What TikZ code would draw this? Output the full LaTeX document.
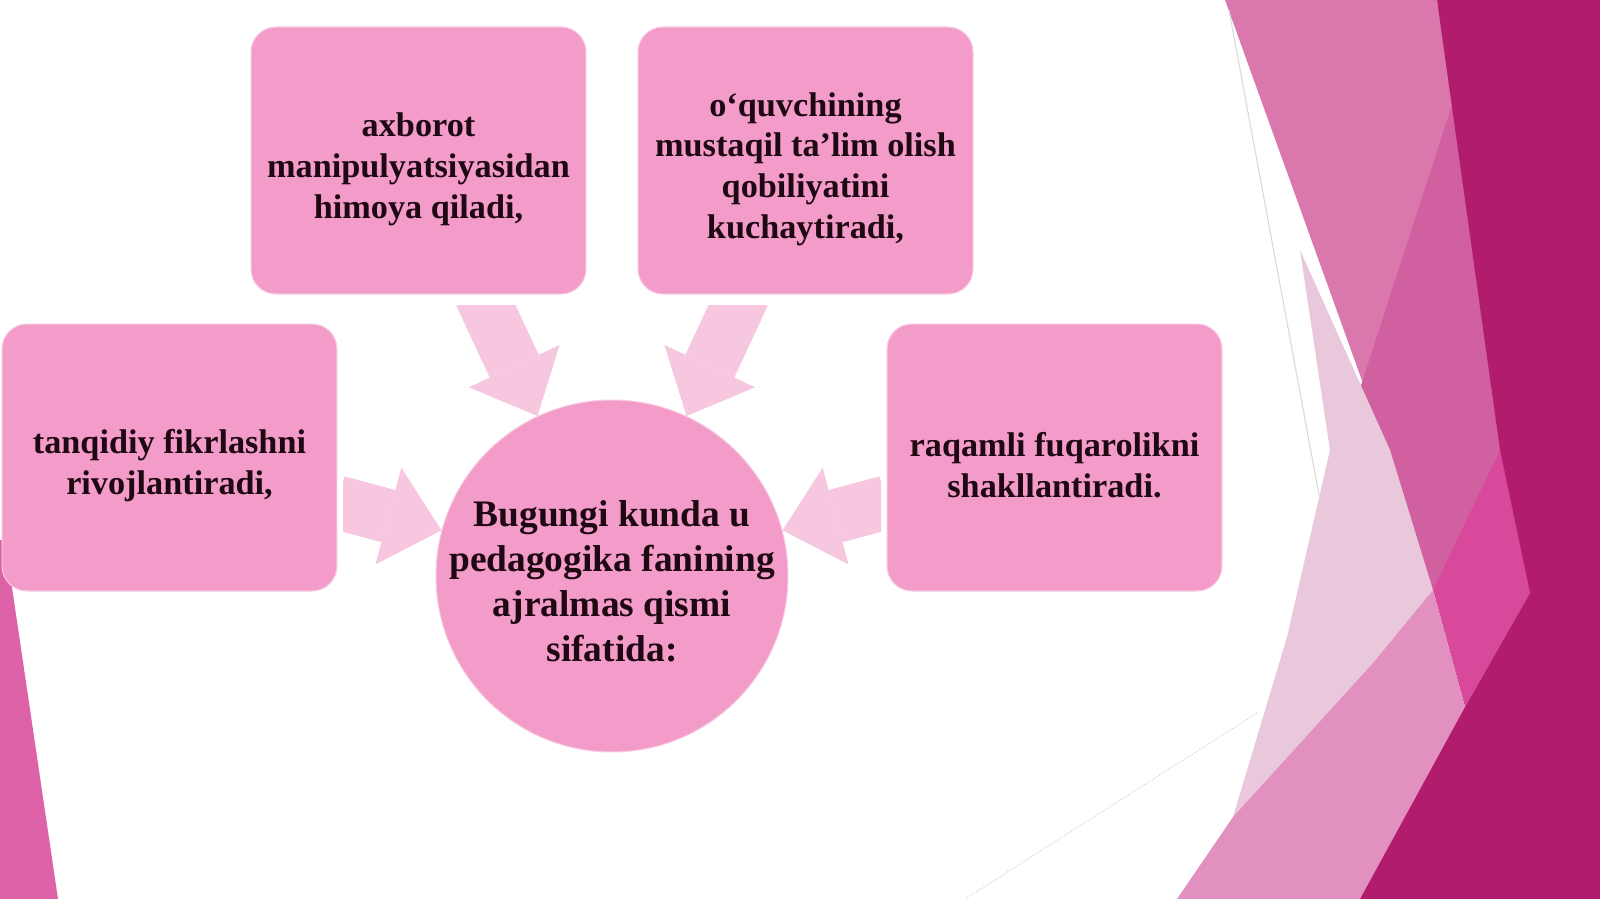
\documentclass[tikz,border=0pt]{standalone}
\usepackage{fontspec}
\setmainfont{Liberation Serif}
\usetikzlibrary{arrows.meta}
\definecolor{a}{RGB}{243,155,201}
\definecolor{b}{RGB}{246,199,223}
\definecolor{c}{RGB}{30,8,18}
\definecolor{d}{RGB}{218,120,174}
\definecolor{e}{RGB}{208,96,159}
\definecolor{f}{RGB}{216,72,155}
\definecolor{g}{RGB}{233,200,219}
\definecolor{h}{RGB}{225,144,191}
\definecolor{i}{RGB}{178,28,109}
\definecolor{j}{RGB}{221,98,167}
\newcommand{\Haut}[1]{\rule{0pt}{#1}}

\begin{document}
\begin{tikzpicture}[x=0.02cm,y=-0.02cm,
	boite/.style={rectangle,rounded corners=0.5cm,fill=a,draw=a!55!white,line width=0.6pt,
		minimum width=6.7cm,minimum height=5.34cm,align=center,text=c,
		font=\fontsize{19.5}{23.3}\selectfont\bfseries},
	rond/.style={circle,fill=a,draw=a!55!white,line width=0.6pt,minimum size=7.04cm,
		inner sep=-6pt,align=center,text=c,font=\fontsize{21.3}{25.6}\selectfont\bfseries},
	fleche/.style={draw=b,line width=1.08cm,-{Triangle[length=1.1cm,width=2cm,line width=0pt]}}]
				\useasboundingbox (0,0) rectangle (1600,899);
				\fill[white] (0,0) rectangle (1600,899); % le fond
				% les facettes a droite
				\fill[d] (1225,0) -- (1437,0) -- (1530,593) -- (1433,590) -- (1387,450) -- cycle;
				\fill[e] (1452,105) -- (1500,450) -- (1433,590) -- (1340,450) -- cycle;
				\fill[f] (1500,450) -- (1530,593) -- (1465,707) -- (1433,590) -- cycle;
				\fill[g] (1300,250) -- (1390,450) -- (1433,590) -- (1373,663) -- (1233,817) -- (1287,637) -- (1330,450) -- cycle;
				\fill[h] (1177,899) -- (1233,817) -- (1373,663) -- (1433,590) -- (1465,707) -- (1360,899) -- cycle;
				\fill[i] (1437,0) -- (1600,0) -- (1600,899) -- (1360,899) -- (1465,707) -- (1530,593) -- (1500,450) -- cycle;
				\draw[gray!30,line width=0.6pt] (1229,10) -- (1320,500);
				\draw[gray!35,densely dotted,line width=0.6pt] (1257,713) -- (965,899);
				\fill[j] (0,540) -- (5,540) -- (58,899) -- (0,899) -- cycle; % facette a gauche
				% les boites
				\node[boite] (b1) at (418.5,160.5) {\Haut{23.5pt}axborot\\manipulyatsiyasidan\\himoya qiladi,};
				\node[boite] (b2) at (805.5,160.5) {\Haut{23.5pt}o‘quvchining\\mustaqil ta’lim olish\\qobiliyatini\\kuchaytiradi,};
				\node[boite] (b3) at (169.5,457.5) {\Haut{22.5pt}tanqidiy fikrlashni\\rivojlantiradi,};
				\node[boite] (b4) at (1054.5,457.5) {\Haut{22.5pt}raqamli fuqarolikni\\shakllantiradi.};
				\node[rond] (m) at (612,576) {\Haut{21pt}Bugungi kunda u\\pedagogika fanining\\ajralmas qismi\\sifatida:};
				\begin{scope}
					\clip (343,305) rectangle (881,899); % queues coupees
					\foreach \Box in {b1,b2,b3,b4}{
						\draw[fleche] (\Box) -- (m);}
				\end{scope}
			\end{tikzpicture}
\end{document}
